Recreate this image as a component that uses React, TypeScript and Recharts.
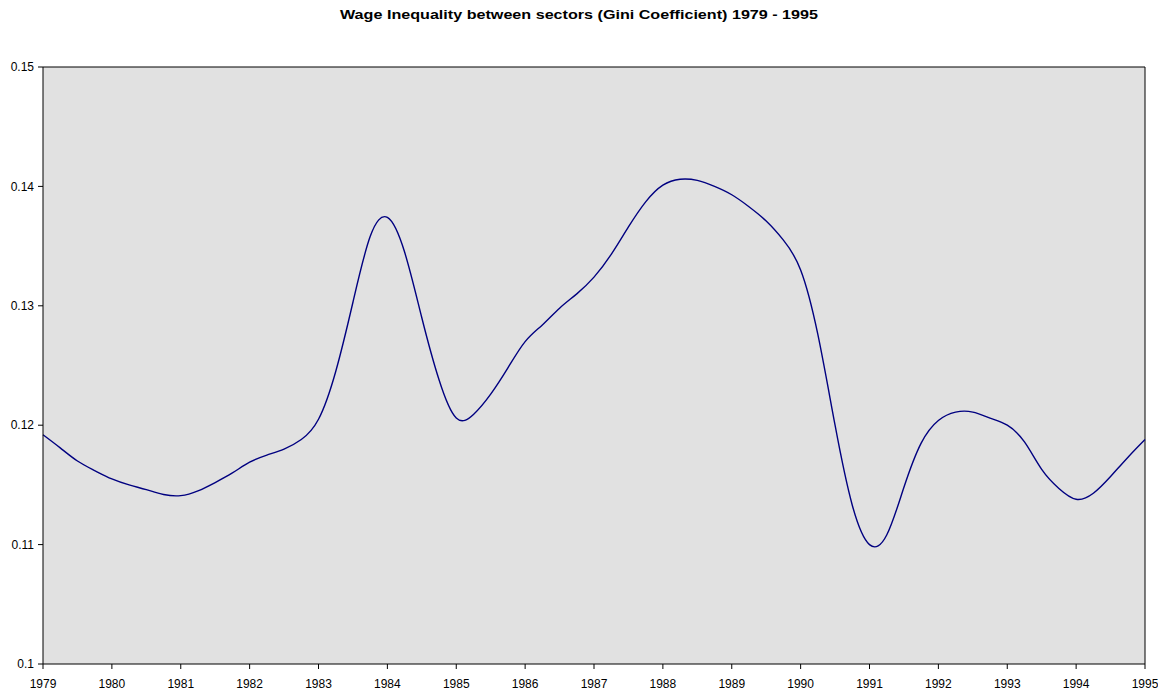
import React from "react";
import {
  LineChart,
  Line,
  XAxis,
  YAxis,
  CartesianGrid,
  ReferenceLine,
} from "recharts";

// quarterly readings, 1979.00 .. 1995.00
const periods = [
  1979, 1979.25, 1979.5, 1979.75, 1980, 1980.25, 1980.5, 1980.75,
  1981, 1981.25, 1981.5, 1981.75, 1982, 1982.25, 1982.5, 1982.75,
  1983, 1983.25, 1983.5, 1983.75, 1984, 1984.25, 1984.5, 1984.75,
  1985, 1985.25, 1985.5, 1985.75, 1986, 1986.25, 1986.5, 1986.75,
  1987, 1987.25, 1987.5, 1987.75, 1988, 1988.25, 1988.5, 1988.75,
  1989, 1989.25, 1989.5, 1989.75, 1990, 1990.25, 1990.5, 1990.75,
  1991, 1991.25, 1991.5, 1991.75, 1992, 1992.25, 1992.5, 1992.75,
  1993, 1993.25, 1993.5, 1993.75, 1994, 1994.25, 1994.5, 1994.75,
  1995,
];

const gini = [
  0.1192, 0.1181, 0.117, 0.1162, 0.1155, 0.115, 0.1146, 0.1142,
  0.1141, 0.1145, 0.1152, 0.116, 0.1169, 0.1175, 0.118, 0.1188,
  0.1205, 0.1245, 0.1303, 0.1358, 0.1374, 0.1345, 0.129, 0.1238,
  0.1206, 0.1209, 0.1226, 0.1248, 0.127, 0.1284, 0.1298, 0.131,
  0.1324, 0.1343, 0.1366, 0.1387, 0.1401, 0.1406, 0.1405, 0.14,
  0.1393, 0.1383, 0.1371, 0.1355, 0.133, 0.1276, 0.12, 0.1133,
  0.11, 0.1108, 0.1148, 0.1185, 0.1204, 0.1211, 0.1211, 0.1206,
  0.12, 0.1186, 0.1163, 0.1147, 0.1138, 0.1143, 0.1157, 0.1173,
  0.1188,
];

const yearTicks = [
  1979, 1980, 1981, 1982, 1983, 1984, 1985, 1986, 1987, 1988, 1989, 1990,
  1991, 1992, 1993, 1994, 1995,
];
const giniTicks = [0.1, 0.11, 0.12, 0.13, 0.14, 0.15];

const title = "Wage Inequality between sectors (Gini Coefficient) 1979 - 1995";

const chartData = periods.map((t, i) => ({ t, gini: gini[i] }));

const font = "'Liberation Sans', Arial, sans-serif";

export default function App() {
  return (
    <div style={styles.wrapper}>
      <svg width={1150} height={30} style={styles.title}>
        <text
          x={571}
          y={11}
          textAnchor="middle"
          fontFamily={font}
          fontWeight="bold"
          fontSize={13}
          textLength={478}
          lengthAdjust="spacingAndGlyphs"
        >
          {title}
        </text>
      </svg>
      <LineChart
        width={1150}
        height={688}
        data={chartData}
        margin={{ top: 59, right: 13, left: 0, bottom: 4 }}
      >
        <CartesianGrid fill="#e1e1e1" horizontal={false} vertical={false} />
        <XAxis
          dataKey="t"
          type="number"
          domain={[1979, 1995]}
          ticks={yearTicks}
          interval={0}
          height={28}
          stroke="#000"
          tickSize={5}
          tickMargin={10}
          tick={{ fontFamily: font, fontSize: 12, fill: "#000" }}
        />
        <YAxis
          type="number"
          domain={[0.1, 0.15]}
          ticks={giniTicks}
          interval={0}
          width={35}
          stroke="#000"
          tickSize={5}
          tickMargin={4}
          tickFormatter={(v: number) => String(Number(v.toFixed(2)))}
          tick={{ fontFamily: font, fontSize: 12, fill: "#000" }}
        />
        <ReferenceLine y={0.15} stroke="#000" />
        <ReferenceLine x={1995} stroke="#000" />
        <Line
          type="natural"
          dataKey="gini"
          stroke="#000080"
          strokeWidth={1.4}
          dot={false}
          isAnimationActive={false}
        />
      </LineChart>
    </div>
  );
}

const styles: Record<string, React.CSSProperties> = {
  wrapper: {
    position: "relative",
    width: 1150,
    height: 688,
    background: "#fff",
  },
  title: {
    position: "absolute",
    top: 0,
    left: 0,
  },
};
